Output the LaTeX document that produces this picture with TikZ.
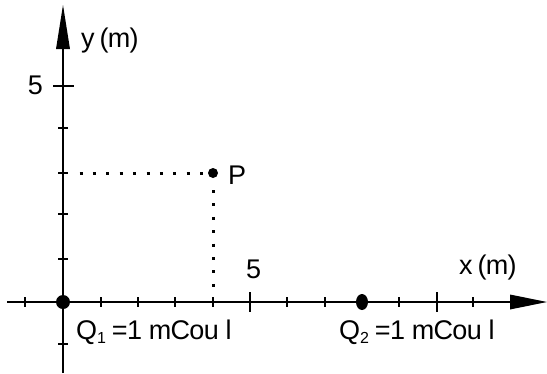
\documentclass[tikz,border=0pt]{standalone}
\usepackage{fontspec}
\setmainfont{Liberation Sans}[LetterSpace=-2.5]
\tikzset{
  axis/.style={line width=1.6pt},
  tick/.style={line width=1.4pt},
  lbl/.style={inner sep=0pt, font=\fontsize{27}{30}\selectfont},
  dotline/.style={line width=3pt, dash pattern=on 3pt off 10.4pt},
}
\newcommand{\mysub}[1]{{\fontsize{16}{16}\selectfont\raisebox{-4.5pt}{#1}}}
\begin{document}
\begin{tikzpicture}[x=1pt,y=-1pt]
\useasboundingbox (0,0) rectangle (547,373);
% key points
\coordinate (O) at (63,302);
\coordinate (P) at (213,173);
\coordinate (Q2) at (362,302);
\coordinate (xs) at (7,302);
\coordinate (xe) at (511,302);
\coordinate (ys) at (63,373);
\coordinate (ye) at (63,48);
% axes
\draw[axis] (xs) -- (xe);
\fill (510,294.5) -- (547,302) -- (510,309.5) -- cycle;
\draw[axis] (ys) -- (ye);
\fill (56,49) -- (63,5) -- (70,49) -- cycle;
% x ticks
\foreach \x in {25,101,138,175,213,287,325,399,473}
  \draw[tick] (\x,297) -- (\x,307);
\foreach \x in {250,437}
  \draw[tick] (\x,292) -- (\x,312);
% y ticks
\foreach \y in {128,173,214,259,344}
  \draw[tick] (58,\y) -- (68,\y);
\draw[tick] (53,86) -- (74,86);
% dotted guides
\coordinate (h1) at (79.5,173);
\coordinate (h2) at (206,173);
\coordinate (v1) at (213,190);
\coordinate (v2) at (213,290);
\draw[dotline] (h1) -- (h2);
\draw[dotline] (v1) -- (v2);
% charges and point
\fill (O) circle[radius=7];
\fill (Q2) ellipse[x radius=6, y radius=8];
\fill (P) circle[radius=5];
% labels
\node[lbl, anchor=base west] (ylab) at (81,47) {y\hspace{-2pt} (m)};
\node[lbl, anchor=base east] (y5) at (43,94) {5};
\node[lbl, anchor=base west] (plab) at (228,184) {P};
\node[lbl, anchor=base west] (x5) at (246,278) {5};
\node[lbl, anchor=base west] (xlab) at (459,274) {x\hspace{-2pt} (m)};
\node[lbl, anchor=base west] (q1) at (76,339) {Q\mysub{1}\hspace{-1pt} =1 mCou l};
\node[lbl, anchor=base west] (q2) at (339,339) {Q\mysub{2}\hspace{-1pt} =1 mCou l};
\end{tikzpicture}
\end{document}
